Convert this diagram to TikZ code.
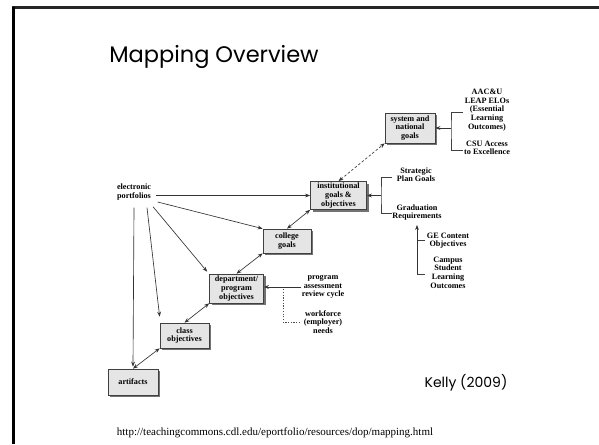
\documentclass[tikz,border=0pt]{standalone}
\usepackage{fontspec}
\setmainfont{Liberation Serif}
\newfontfamily\titlefont{Poppins}
\usetikzlibrary{arrows.meta,shadows}
\begin{document}
\begin{tikzpicture}[x=1pt,y=-1pt,
  dtext/.style={font=\bfseries\fontsize{8.2}{8.6}\selectfont, align=center, inner sep=0.5pt},
  gbox/.style={dtext, draw=black!75, fill=black!10, line width=0.7pt,
    drop shadow={shadow xshift=2.2pt, shadow yshift=-2.2pt, fill=black!55, opacity=1}},
  arr/.style={-{Stealth[length=5pt,width=3.8pt]}, line width=0.65pt, draw=black!80},
  darr/.style={{Stealth[length=5pt,width=3.8pt]}-{Stealth[length=5pt,width=3.8pt]}, line width=0.65pt, draw=black!80},
  bline/.style={line width=0.65pt, draw=black!75}
]
\useasboundingbox (0,0) rectangle (599,444);
% frame
\draw[line width=2.5pt, draw=black!85] (12,7.5) -- (599,7.5);
\draw[line width=3pt] (13.5,7) -- (13.5,444);
% title
\node (title) at (214,57) {\titlefont\fontsize{22.5}{26}\selectfont Mapping Overview};
\node (kelly) at (466,383) {\titlefont\fontsize{14}{16}\selectfont Kelly (2009)};
\node (url) at (275,433) {\fontsize{11}{13}\selectfont http://teachingcommons.cdl.edu/eportfolio/resources/dop/mapping.html};
% boxes
\node[gbox, minimum width=50pt, minimum height=30pt] (sys) at (410,128) {system and\\national\\goals};
\node[gbox, minimum width=56pt, minimum height=28pt] (inst) at (338.5,195.5) {institutional\\goals \&\\objectives};
\node[gbox, minimum width=48pt, minimum height=24pt] (coll) at (287,241) {college\\goals};
\node[gbox, minimum width=54pt, minimum height=29pt] (dept) at (236.5,288.5) {department/\\program\\objectives};
\node[gbox, minimum width=49pt, minimum height=25pt] (cls) at (184.5,335.5) {class\\objectives};
\node[gbox, minimum width=50pt, minimum height=26pt] (art) at (133,382) {artifacts};
% texts
\node[dtext] (ep) at (134,192) {electronic\\portfolios};
\node[dtext] (aac) at (487,110) {AAC\&U\\LEAP ELOs\\(Essential\\Learning\\Outcomes)};
\node[dtext] (csu) at (487,148) {CSU Access\\to Excellence};
\node[dtext] (spg) at (416,174.5) {Strategic\\Plan Goals};
\node[dtext] (grad) at (417,212.5) {Graduation\\Requirements};
\node[dtext] (ge) at (448,240.5) {GE Content\\Objectives};
\node[dtext] (camp) at (448,272.5) {Campus\\Student\\Learning\\Outcomes};
\node[dtext] (prog) at (323,287) {program\\assessment\\review cycle};
\node[dtext] (work) at (323,322) {workforce\\(employer)\\needs};
% connector coordinates
\coordinate (s1a) at (463,112);
\coordinate (s1b) at (463,150);
\coordinate (j1) at (451,128);
\coordinate (s2a) at (392,177);
\coordinate (s2b) at (392,213);
\coordinate (j2) at (381,195.5);
\coordinate (s3a) at (425,240);
\coordinate (s3b) at (425,274);
\coordinate (j3) at (417,274);
\coordinate (g3) at (417,225);
\coordinate (j4) at (283,288);
\coordinate (w4) at (300,322);
% arrows from electronic portfolios
\draw[arr] (ep.east |- inst.west) ++(4,0) -- (inst.west);
\draw[arr] ([shift={(6,10)}]ep.east) -- (coll.north west);
\draw[arr] ([shift={(19,6)}]ep.south) -- ([shift={(-2,-2)}]dept.north west);
\draw[arr] ([shift={(13,7)}]ep.south) -- ([shift={(0,-6)}]cls.north west);
\draw[arr] ([shift={(0,7)}]ep.south) -- ([shift={(0,-2)}]art.north);
% double arrows
\draw[darr] (cls.south west) -- (art.north);
\draw[darr] (dept.south west) -- (cls.north);
\draw[darr] (coll.south west) -- (dept.north);
\draw[darr] (inst.south west) -- (coll.north);
\draw[darr, dashed, dash pattern=on 2.5pt off 2pt] (inst.north) -- (sys.south west);
% brackets
\draw[bline] (s1a) -| (j1) |- (s1b);
\draw[arr] (j1) -- (sys.east);
\draw[bline] (s2a) -| (j2) |- (s2b);
\draw[arr] (j2) -- (inst.east);
\draw[bline] (s3a) -- (s3a -| j3);
\draw[bline] (s3b) -- (j3);
\draw[arr] (j3) -- (g3);
% program / workforce
\draw[arr] (prog.west) -- (prog.west -| dept.east);
\draw[line width=0.6pt, draw=black!70, dash pattern=on 1.2pt off 1.5pt] (w4) -| (j4);
\end{tikzpicture}
\end{document}
